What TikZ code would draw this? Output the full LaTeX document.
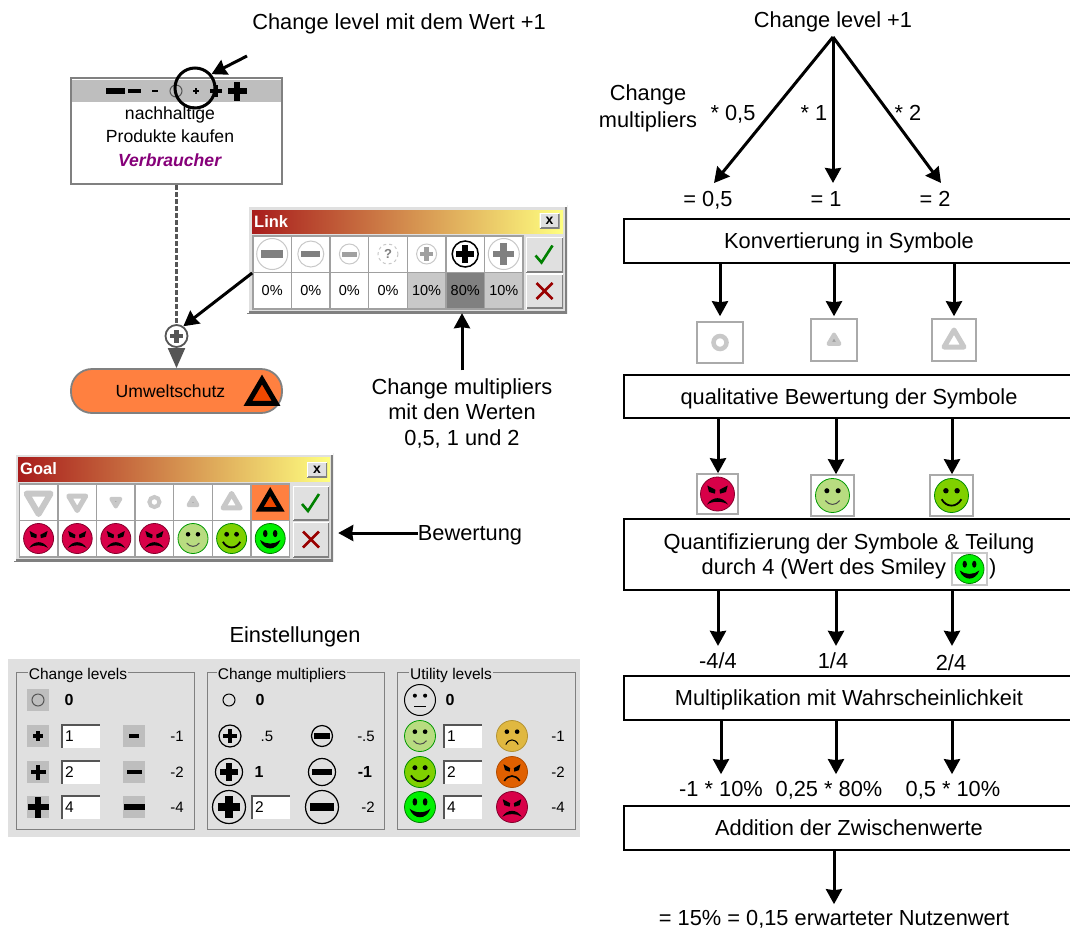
\documentclass[tikz,border=0pt]{standalone}
\usepackage{fontspec}
\setmainfont{Liberation Sans}
\usetikzlibrary{arrows.meta,positioning}
\definecolor{panel}{HTML}{E0E0E0}
\definecolor{lineg}{HTML}{A0A0A0}
\definecolor{softg}{HTML}{C8C8C8}
\definecolor{darkg}{HTML}{555555}
\definecolor{orangebox}{HTML}{FF8040}
\definecolor{redfill}{HTML}{F04800}
\definecolor{barleft}{HTML}{A81C1C}
\definecolor{barright}{HTML}{FFFF80}
\definecolor{redface}{HTML}{D80048}
\definecolor{oranface}{HTML}{E06000}
\definecolor{yellface}{HTML}{E0B840}
\definecolor{lightface}{HTML}{B8DC80}
\definecolor{midface}{HTML}{80D000}
\definecolor{fullface}{HTML}{00F000}
\begin{document}
\begin{tikzpicture}[
x=1pt,y=-1pt,
>={Stealth[length=15pt,width=16pt,inset=1pt]},
txt/.style={inner sep=0pt,align=center,text depth=0pt,font=\fontsize{21.8}{25.5}\selectfont},
small/.style={inner sep=0pt,align=center,font=\fontsize{17.6}{23.5}\selectfont},
tiny/.style={inner sep=0pt,font=\fontsize{15}{18}\selectfont},
tinyb/.style={inner sep=0pt,font=\fontsize{16}{18}\selectfont\bfseries},
flowbox/.style={rectangle,draw,line width=1.5pt,minimum width=450,inner sep=0pt,align=center,text depth=0pt,font=\fontsize{21.8}{25}\selectfont},
line/.style={draw,->,line width=3pt},
iconbox/.style={rectangle,draw=softg!85!black,line width=1.5pt,fill=white,inner sep=0pt},
cell/.style={rectangle,draw=lineg,line width=1.5pt,fill=white,minimum width=38.6,minimum height=36.5,inner sep=0pt,font=\fontsize{14.5}{16}\selectfont,node distance=38.6pt},
window/.style={rectangle,fill=panel,inner sep=0pt,path picture={
 \draw[gray,line width=4pt] (path picture bounding box.south west) -- (path picture bounding box.south east) -- (path picture bounding box.north east);
 \draw[white,line width=3pt] (path picture bounding box.south west) -- (path picture bounding box.north west) -- (path picture bounding box.north east);}},
titlebar/.style={rectangle,left color=barleft,right color=barright,minimum height=23,inner sep=0pt},
titletxt/.style={inner sep=0pt,text=white,font=\fontsize{16.5}{18}\selectfont\bfseries},
button/.style={rectangle,fill=panel,inner sep=0pt,path picture={
 \draw[gray,line width=3pt] (path picture bounding box.south west) -- (path picture bounding box.south east) -- (path picture bounding box.north east);
 \draw[white,line width=2pt] (path picture bounding box.south west) -- (path picture bounding box.north west) -- (path picture bounding box.north east);}},
group/.style={rectangle,draw=gray,line width=1pt,inner sep=0pt},
grouptxt/.style={fill=panel,inner sep=1pt,font=\fontsize{15.5}{18}\selectfont},
greybtn/.style={rectangle,fill=softg!95!black,minimum width=22,minimum height=22,inner sep=0pt},
field/.style={rectangle,fill=white,minimum width=39,minimum height=24,inner sep=0pt,font=\fontsize{15.5}{18}\selectfont,text width=31,align=left,path picture={
 \draw[darkg,line width=3pt] (path picture bounding box.south west) -- (path picture bounding box.north west) -- (path picture bounding box.north east);}},
plusicon/.pic={\fill (-1,-.32) rectangle (1,.32); \fill (-.32,-1) rectangle (.32,1);},
minusicon/.pic={\fill (-1,-.32) rectangle (1,.32);},
ringplus/.pic={\draw[color=#1] (0,0) circle (1); \fill (-.68,-.22) rectangle (.68,.22); \fill (-.22,-.68) rectangle (.22,.68);},
ringminus/.pic={\draw[color=#1] (0,0) circle (1); \fill (-.72,-.25) rectangle (.72,.25);},
tri/.pic={\path[pic actions,line join=round] (0,-1) -- (-1,.7) -- (1,.7) -- cycle;},
trisharp/.pic={\path[pic actions,line join=miter] (0,-1) -- (-1,.7) -- (1,.7) -- cycle;},
tickmark/.pic={\draw[color=green!50!black,line width=2.6pt] (-9,1) -- (-3,8) -- (8,-9);},
crossmark/.pic={\draw[color=red!60!black,line width=2.6pt] (-8,-8) -- (8,8) (8,-8) -- (-8,8);},
sadfull/.pic={\filldraw[fill=redface,draw=purple!70!black,line width=.8pt] (0,0) circle (1);
 \fill (-.6,-.5) -- (-.12,-.25) -- (-.15,-.02) -- (-.5,-.12) -- cycle; \fill (.6,-.5) -- (.12,-.25) -- (.15,-.02) -- (.5,-.12) -- cycle;
 \fill (-.62,.62) .. controls (-.3,.12) and (.3,.12) .. (.62,.62) .. controls (.3,.4) and (-.3,.4) .. cycle;},
sadmid/.pic={\filldraw[fill=oranface,draw=oranface!80!black,line width=.8pt] (0,0) circle (1);
 \fill (-.55,-.5) -- (-.12,-.25) -- (-.15,-.02) -- (-.45,-.12) -- cycle; \fill (.55,-.5) -- (.12,-.25) -- (.15,-.02) -- (.45,-.12) -- cycle;
 \draw[line width=1.6pt] (-.5,.58) .. controls (-.25,.15) and (.25,.15) .. (.5,.58);},
sadlight/.pic={\filldraw[fill=yellface,draw=yellface!80!black,line width=.8pt] (0,0) circle (1);
 \fill (-.33,-.28) circle (.15); \fill (.33,-.28) circle (.15);
 \draw[line width=1pt] (-.4,.55) .. controls (-.2,.15) and (.2,.15) .. (.4,.55);},
neutralface/.pic={\draw[line width=1pt] (0,0) circle (1);
 \fill (-.33,-.28) circle (.13); \fill (.33,-.28) circle (.13);
 \draw[line width=1pt] (-.38,.45) -- (.38,.45);},
happylight/.pic={\filldraw[fill=lightface,draw=green!60!black,line width=.8pt] (0,0) circle (1);
 \fill (-.33,-.28) circle (.15); \fill (.33,-.28) circle (.15);
 \draw[line width=1pt,black!70] (-.42,.3) .. controls (-.2,.6) and (.2,.6) .. (.42,.3);},
happymid/.pic={\filldraw[fill=midface,draw=green!55!black,line width=.8pt] (0,0) circle (1);
 \fill (-.33,-.28) circle (.16); \fill (.33,-.28) circle (.16);
 \draw[line width=1.8pt] (-.58,.22) .. controls (-.3,.72) and (.3,.72) .. (.58,.22);},
happyfull/.pic={\filldraw[fill=fullface,draw=green!50!black,line width=.8pt] (0,0) circle (1);
 \fill (-.33,-.33) ellipse (.15 and .24); \fill (.33,-.33) ellipse (.15 and .24);
 \fill (-.68,.1) .. controls (-.4,.85) and (.4,.85) .. (.68,.1) .. controls (.3,.42) and (-.3,.42) .. cycle;}
]
\useasboundingbox (0,0) rectangle (1070,929);

\node[txt] (levtxt) at (399,22) {Change level mit dem Wert +1};
\node[rectangle,draw=gray,line width=2pt,fill=white,minimum width=211,minimum height=106,inner sep=0pt] (actor) at (176.5,131) {};
\node[rectangle,fill=softg!95!black,minimum width=209,minimum height=22,inner sep=0pt] (actorhead) at (176.5,90.5) {};
\node[small] (actortxt) at (170,136.5) {nachhaltige\\Produkte kaufen\\\textcolor{purple!70!blue}{\textbf{\textit{Verbraucher}}}};
\pic[scale=9.5] at (115,91) {minusicon};
\pic[scale=6.5] at (134,91) {minusicon};
\pic[scale=3] at (155,91) {minusicon};
\draw[darkg,line width=1pt] (176,91) circle (6);
\pic[scale=3] at (196,91) {plusicon};
\pic[scale=6] at (216,91) {plusicon};
\pic[scale=9.5] at (237,91) {plusicon};
\node[circle,draw,line width=3pt,minimum size=40,inner sep=0pt] (levring) at (195,88) {};
\coordinate (levstart) at (247,56);
\draw[line] (levstart) -- (levring.40);

\node[circle,draw=darkg,line width=1.8pt,fill=white,minimum size=22,inner sep=0pt] (pluslink) at (176.5,336) {};
\pic[scale=6.5,darkg] at (pluslink) {plusicon};
\node[rectangle,draw=gray,line width=1.8pt,fill=orangebox,rounded corners=21pt,minimum width=211,minimum height=44,inner sep=0pt,small] (umwelt) at (176.5,391) {\hspace*{-12pt}Umweltschutz};
\pic[scale=14,line width=5pt,draw=black,fill=redfill] at (262,393.5) {trisharp};
\draw[draw=darkg,line width=2.6pt,dash pattern=on 5pt off 2pt] (actor) -- (pluslink);
\draw[draw=darkg,line width=2pt,-{Triangle[length=20pt,width=17pt]}] (pluslink) -- (umwelt);

\node[window,minimum width=320,minimum height=108] (linkwin) at (407,259) {};
\node[titlebar,minimum width=311] (linkbar) at (407.5,221.5) {};
\node[titletxt,anchor=west] (linktxt) at (254,221.5) {Link};
\node[button,minimum width=20,minimum height=15,font=\bfseries\fontsize{14}{14}\selectfont] (linkclose) at (549.5,220.5) {x};
\node[cell] (l1) at (272.2,254) {};
\node[cell] (l2) [right of = l1] {};
\node[cell] (l3) [right of = l2] {};
\node[cell] (l4) [right of = l3] {};
\node[cell] (l5) [right of = l4] {};
\node[cell] (l6) [right of = l5] {};
\node[cell] (l7) [right of = l6] {};
\node[cell] (p1) at (272.2,290.6) {0\%};
\node[cell] (p2) [right of = p1] {0\%};
\node[cell] (p3) [right of = p2] {0\%};
\node[cell] (p4) [right of = p3] {0\%};
\node[cell,fill=softg] (p5) [right of = p4] {10\%};
\node[cell,fill=gray] (p6) [right of = p5] {80\%};
\node[cell,fill=softg] (p7) [right of = p6] {10\%};
\pic[scale=15.5,gray,line width=1pt] at (l1) {ringminus=softg};
\pic[scale=13,gray,line width=1pt] at (l2) {ringminus=softg};
\pic[scale=10,lineg,line width=1pt] at (l3) {ringminus=softg};
\draw[softg,line width=1pt,dashed] (l4) circle (10);
\node[inner sep=0pt,text=gray,font=\bfseries\fontsize{13}{13}\selectfont] (lq) at (l4) {?};
\pic[scale=10,lineg,line width=1pt] at (l5) {ringplus=softg};
\pic[scale=13,line width=1.5pt] at (l6) {ringplus=black};
\pic[scale=15.5,gray,line width=1pt] at (l7) {ringplus=softg};
\node[button,minimum width=37,minimum height=35] (linkok) at (544.5,254.5) {};
\node[button,minimum width=37,minimum height=35] (linkno) at (544.5,291) {};
\pic at (linkok) {tickmark};
\pic at (linkno) {crossmark};
\draw[line] (l1.south west) -- (pluslink.55);

\node[txt] (cmtxt) at (462,412) {Change multipliers\\mit den Werten\\0,5, 1 und 2};
\draw[line] ([yshift=8pt]cmtxt.north) -- (cmtxt.north |- linkwin.south);

\node[window,minimum width=319,minimum height=108] (goalwin) at (173.5,507) {};
\node[titlebar,minimum width=312,minimum height=24] (goalbar) at (174,469) {};
\node[titletxt,anchor=west] (goaltxt) at (20,469) {Goal};
\node[button,minimum width=20,minimum height=15,font=\bfseries\fontsize{14}{14}\selectfont] (goalclose) at (317,469.5) {x};
\node[cell] (g1) at (38.6,502) {};
\node[cell] (g2) [right of = g1] {};
\node[cell] (g3) [right of = g2] {};
\node[cell] (g4) [right of = g3] {};
\node[cell] (g5) [right of = g4] {};
\node[cell] (g6) [right of = g5] {};
\node[cell,fill=orangebox] (g7) [right of = g6] {};
\node[cell] (f1) at (38.6,538.5) {};
\node[cell] (f2) [right of = f1] {};
\node[cell] (f3) [right of = f2] {};
\node[cell] (f4) [right of = f3] {};
\node[cell] (f5) [right of = f4] {};
\node[cell] (f6) [right of = f5] {};
\node[cell] (f7) [right of = f6] {};
\pic[scale=12,line width=6pt,rotate=180,draw=softg,fill=white] at (g1) {tri};
\pic[scale=8.5,line width=5pt,rotate=180,draw=softg,fill=white] at (g2) {tri};
\pic[scale=4.5,line width=4pt,rotate=180,draw=softg,fill=lineg] at (g3) {tri};
\draw[softg,line width=4pt] (g4) circle (5);
\pic[scale=4.5,line width=4pt,draw=softg,fill=lineg] at (g5) {tri};
\pic[scale=8.5,line width=5pt,draw=softg,fill=white] at (g6) {tri};
\pic[scale=10.5,line width=4.5pt,draw=black,fill=redfill] at (g7) {trisharp};
\pic[scale=15] at (f1) {sadfull};
\pic[scale=15] at (f2) {sadfull};
\pic[scale=15] at (f3) {sadfull};
\pic[scale=15] at (f4) {sadfull};
\pic[scale=15] at (f5) {happylight};
\pic[scale=15] at (f6) {happymid};
\pic[scale=15] at (f7) {happyfull};
\node[button,minimum width=36,minimum height=34] (goalok) at (311,503) {};
\node[button,minimum width=36,minimum height=35] (goalno) at (311,539.5) {};
\pic at (goalok) {tickmark};
\pic at (goalno) {crossmark};
\node[txt] (bewtxt) at (470,533) {Bewertung};
\draw[line] (bewtxt.west) -- ([xshift=5pt]bewtxt.west -| goalwin.east);

\node[txt] (settxt) at (295,635) {Einstellungen};
\node[rectangle,fill=panel,minimum width=572,minimum height=178,inner sep=0pt] (setpanel) at (294,748) {};
\node[group,minimum width=178,minimum height=157] (levels) at (105,750.5) {};
\node[group,minimum width=177,minimum height=157] (multis) at (295.5,750.5) {};
\node[group,minimum width=178,minimum height=157] (utils) at (486,750.5) {};
\node[grouptxt] (levtitle) at (78,675) {Change levels};
\node[grouptxt] (multitle) at (282,675) {Change multipliers};
\node[grouptxt] (utiltitle) at (451,675) {Utility levels};

\node[greybtn] (s0) at (38,700) {};
\node[greybtn] (s1) at (38,736) {};
\node[greybtn] (s2) at (38,772) {};
\node[greybtn] (s3) at (38,807) {};
\draw[darkg,line width=1pt] (s0) circle (6);
\pic[scale=5] at (s1) {plusicon};
\pic[scale=7.5] at (s2) {plusicon};
\pic[scale=10.5] at (s3) {plusicon};
\node[tinyb] (s0v) at (69,700) {0};
\node[field] (s1v) at (80.5,736) {1};
\node[field] (s2v) at (80.5,772) {2};
\node[field] (s3v) at (80.5,807) {4};
\node[greybtn] (n1) at (134,736) {};
\node[greybtn] (n2) at (134,772) {};
\node[greybtn] (n3) at (134,807) {};
\pic[scale=5] at (n1) {minusicon};
\pic[scale=7.5] at (n2) {minusicon};
\pic[scale=10.5] at (n3) {minusicon};
\node[tiny] (n1v) at (177,736) {-1};
\node[tiny] (n2v) at (177,772) {-2};
\node[tiny] (n3v) at (177,807) {-4};

\node[circle,draw,line width=1pt,minimum size=12,inner sep=0pt] (m0) at (229,700) {};
\coordinate (m1) at (230,736);
\coordinate (m2) at (229,772);
\coordinate (m3) at (229,807);
\pic[scale=11,line width=1.2pt] at (m1) {ringplus=black};
\pic[scale=13.5,line width=1.2pt] at (m2) {ringplus=black};
\pic[scale=16.5,line width=1.2pt] at (m3) {ringplus=black};
\node[tinyb] (m0v) at (260,700) {0};
\node[tiny] (m1v) at (267,736) {.5};
\node[tinyb] (m2v) at (259,772) {1};
\node[field] (m3v) at (270.5,807) {2};
\coordinate (d1) at (322,736);
\coordinate (d2) at (322,772);
\coordinate (d3) at (322,807);
\pic[scale=10.5,line width=1.2pt] at (d1) {ringminus=black};
\pic[scale=13.5,line width=1.2pt] at (d2) {ringminus=black};
\pic[scale=16.5,line width=1.2pt] at (d3) {ringminus=black};
\node[tiny] (d1v) at (366,736) {-.5};
\node[tinyb] (d2v) at (365,772) {-1};
\node[tiny] (d3v) at (368,807) {-2};

\pic[scale=15.5] at (420,700) {neutralface};
\pic[scale=15.5] at (420,736) {happylight};
\pic[scale=15.5] at (420,772) {happymid};
\pic[scale=15.5] at (420,807) {happyfull};
\node[tinyb] (u0v) at (450,700) {0};
\node[field] (u1v) at (462.5,736) {1};
\node[field] (u2v) at (462.5,772) {2};
\node[field] (u3v) at (462.5,807) {4};
\pic[scale=15.5] at (512,736) {sadlight};
\pic[scale=15.5] at (512,772) {sadmid};
\pic[scale=15.5] at (512,807) {sadfull};
\node[tiny] (b1v) at (558,736) {-1};
\node[tiny] (b2v) at (558,772) {-2};
\node[tiny] (b3v) at (558,807) {-4};

\node[txt] (toptxt) at (833,20) {Change level +1};
\coordinate (apex) at (833,37);
\node[txt] (cmtop) at (648,93) {Change};
\node[txt] (cmbot) at (648,120) {multipliers};
\node[txt] (f05) at (733,113) {* 0,5};
\node[txt] (f10) at (814,113) {* 1};
\node[txt] (f20) at (908,113) {* 2};
\node[txt] (v05) at (708,199) {= 0,5};
\node[txt] (v10) at (826,199) {= 1};
\node[txt] (v20) at (935,199) {= 2};
\coordinate (tip1) at (714,183);
\coordinate (tip2) at (833,183);
\coordinate (tip3) at (941,183);
\draw[line] (apex) -- (tip1);
\draw[line] (apex) -- (tip2);
\draw[line] (apex) -- (tip3);

\coordinate (c1) at (718,0);
\coordinate (c2) at (836,0);
\coordinate (c3) at (952,0);
\node[flowbox,minimum height=44] (konv) at (849,241) {Konvertierung in Symbole};
\node[flowbox,minimum height=43] (quali) at (849,396.5) {qualitative Bewertung der Symbole};
\node[flowbox,minimum height=71] (quant) at (849,554.5) {Quantifizierung der Symbole \& Teilung\\durch 4 (Wert des Smiley \hspace{37pt})};
\node[flowbox,minimum height=44] (multi) at (849,698) {Multiplikation mit Wahrscheinlichkeit};
\node[flowbox,minimum height=44] (addi) at (849,828) {Addition der Zwischenwerte};

\node[iconbox,minimum width=46,minimum height=41] (sym1) at (720,342.5) {};
\node[iconbox,minimum width=46,minimum height=42] (sym2) at (834,340) {};
\node[iconbox,minimum width=44,minimum height=42] (sym3) at (954,340) {};
\draw[softg,line width=4.5pt] (sym1) circle (6.5);
\pic[scale=5.5,line width=4pt,draw=softg,fill=lineg] at (sym2) {tri};
\pic[scale=10,line width=5pt,draw=softg,fill=white] at (sym3) {tri};
\draw[line,shorten >=5pt] (sym1 |- konv.south) -- (sym1.north);
\draw[line,shorten >=2pt] (sym2 |- konv.south) -- (sym2.north);
\draw[line,shorten >=2pt] (sym3 |- konv.south) -- (sym3.north);

\node[iconbox,minimum width=41,minimum height=40] (face1) at (717.5,494) {};
\node[iconbox,minimum width=43,minimum height=41] (face2) at (832.5,495.5) {};
\node[iconbox,minimum width=43,minimum height=41] (face3) at (951.5,495.5) {};
\pic[scale=17] at (face1) {sadfull};
\pic[scale=17] at (face2) {happylight};
\pic[scale=17] at (face3) {happymid};
\draw[line] (c1 |- quali.south) -- (c1 |- face1.north);
\draw[line] (c2 |- quali.south) -- (c2 |- face2.north);
\draw[line] (c3 |- quali.south) -- (c3 |- face3.north);

\node[iconbox,draw=softg,minimum width=35,minimum height=32] (facein) at (969.5,569) {};
\pic[scale=14.5] at (facein) {happyfull};

\node[txt] (val1) at (718,661) {-4/4};
\node[txt] (val2) at (833,661) {1/4};
\node[txt] (val3) at (951,663) {2/4};
\draw[line,shorten >=7pt] (c1 |- quant.south) -- (c1 |- val1.north);
\draw[line,shorten >=7pt] (c2 |- quant.south) -- (c2 |- val2.north);
\draw[line,shorten >=9pt] (c3 |- quant.south) -- (c3 |- val3.north);

\node[txt] (res1) at (721,789) {-1 * 10\%};
\node[txt] (res2) at (829,789) {0,25 * 80\%};
\node[txt] (res3) at (953,789) {0,5 * 10\%};
\draw[line,shorten >=7pt] (res1 |- multi.south) -- (res1.north);
\draw[line,shorten >=7pt] (c2 |- multi.south) -- (c2 |- res2.north);
\draw[line,shorten >=7pt] (c3 |- multi.south) -- (c3 |- res3.north);

\node[txt] (total) at (834,918) {= 15\% = 0,15 erwarteter Nutzenwert};
\draw[line,shorten >=6pt] (total |- addi.south) -- (total.north);

\end{tikzpicture}
\end{document}
